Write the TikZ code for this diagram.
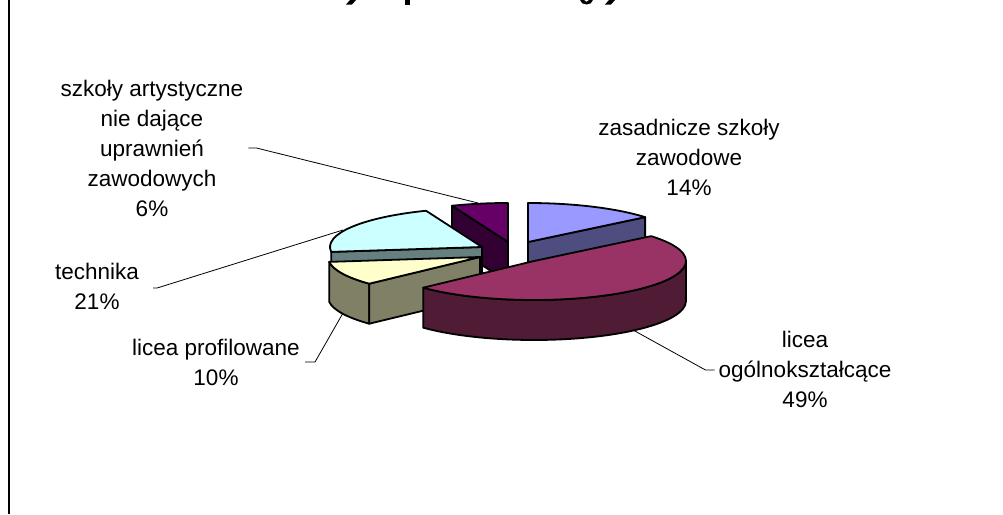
\documentclass[tikz,border=0pt]{standalone}
\usepackage{fontspec}
\setmainfont{Liberation Sans}
\definecolor{blueTop}{HTML}{9999FF}
\definecolor{blueSide}{HTML}{4D4D80}
\definecolor{redTop}{HTML}{993366}
\definecolor{redSide}{HTML}{4F1B35}
\definecolor{yelTop}{HTML}{FFFFCC}
\definecolor{yelSide}{HTML}{808066}
\definecolor{cyanTop}{HTML}{CCFFFF}
\definecolor{cyanSide}{HTML}{668080}
\definecolor{purTop}{HTML}{660066}
\definecolor{purSide}{HTML}{330033}
\newcommand{\pieRX}{152}
\newcommand{\pieRY}{39}
\newcommand{\pieH}{40}
\begin{document}
\begin{tikzpicture}[x=1pt,y=1pt,line join=round,
  edge/.style={draw=black,line width=1.8pt},
  lbl/.style={align=center,font=\fontsize{22.5}{30}\selectfont,inner sep=2pt},
  leader/.style={draw=black,line width=0.8pt},
  ell/.style={x radius=\pieRX,y radius=\pieRY}]
\useasboundingbox (0,0) rectangle (1003,-514);
\fill[white] (0,0) rectangle (1003,-514);
% frame (left border only visible)
\draw[line width=1.6pt] (9,0) -- (9,-514);
% cut-off title descenders
\fill (350,0) -- (356,0) -- (352,-4.5) -- (346,-4.5) -- cycle;
\fill (405,0) rectangle (409.5,-4.5);
\fill (580,0) .. controls (581,-6) and (592,-6) .. (593,0) -- (589,0) .. controls (588,-2.5) and (585,-2.5) .. (584,0) -- cycle;
\fill (609,0) -- (615,0) -- (611,-4.5) -- (605,-4.5) -- cycle;

% slice 5: szkoly artystyczne (purple, back)
\path[edge,fill=purSide] (508,-242) -- ++({\pieRX*cos(111.6)},{\pieRY*sin(111.6)}) -- ++(0,-\pieH) -- (508,-282) -- cycle;
\path[edge,fill=purTop] (508,-242) -- ++({\pieRX*cos(111.6)},{\pieRY*sin(111.6)}) arc[start angle=111.6,end angle=90,ell] -- cycle;
% slice 1: zasadnicze (blue)
\path[edge,fill=blueSide] (528,-242) -- ++({\pieRX*cos(39.6)},{\pieRY*sin(39.6)}) -- ++(0,-\pieH) -- (528,-282) -- cycle;
\path[edge,fill=blueTop] (528,-242) -- ++(0,\pieRY) arc[start angle=90,end angle=39.6,ell] -- cycle;
% slice 4: technika (cyan)
\path[edge,fill=cyanSide] (482,-247) -- ++({\pieRX*cos(187.2)},{\pieRY*sin(187.2)}) -- ++(0,-\pieH) -- (482,-287) -- cycle;
\path[edge,fill=cyanTop] (482,-247) -- ++({\pieRX*cos(187.2)},{\pieRY*sin(187.2)}) arc[start angle=187.2,end angle=111.6,ell] -- cycle;
% slice 3: licea profilowane (yellow)
\path[edge,fill=yelSide] (480,-257) ++({\pieRX*cos(187.2)},{\pieRY*sin(187.2)}) arc[start angle=187.2,end angle=223.2,ell] -- ++(0,-\pieH) arc[start angle=223.2,end angle=187.2,ell] -- cycle;
\path[edge,fill=yelSide] (480,-257) -- ++({\pieRX*cos(223.2)},{\pieRY*sin(223.2)}) -- ++(0,-\pieH) -- (480,-297) -- cycle;
\path[edge,fill=yelTop] (480,-257) -- ++({\pieRX*cos(223.2)},{\pieRY*sin(223.2)}) arc[start angle=223.2,end angle=187.2,ell] -- cycle;
% slice 2: licea ogolnoksztalcace (red, front)
\path[edge,fill=redSide] (534,-261) ++({\pieRX*cos(223.2)},{\pieRY*sin(223.2)}) arc[start angle=223.2,end angle=360,ell] -- ++(0,-\pieH) arc[start angle=360,end angle=223.2,ell] -- cycle;
\path[edge,fill=redTop] (534,-261) -- ++({\pieRX*cos(39.6)},{\pieRY*sin(39.6)}) arc[start angle=39.6,end angle=-136.8,ell] -- cycle;

% leader end points
\coordinate (e5) at (478,-203);
\coordinate (e4) at (343,-230);
\coordinate (e3) at (343,-313);
\coordinate (e2) at (633,-330);

% labels
\node[lbl] (l1) at (689,-157) {zasadnicze szkoły\\zawodowe\\14\%};
\node[lbl] (l5) at (152,-148) {szkoły artystyczne\\nie dające\\uprawnień\\zawodowych\\6\%};
\node[lbl] (l4) at (97,-286) {technika\\21\%};
\node[lbl] (l3) at (216,-362) {licea profilowane\\10\%};
\node[lbl] (l2) at (805,-369) {licea\\ogólnokształcące\\49\%};

% leaders
\draw[leader] (l5.east) ++(3,0) -- ++(8,0) -- (e5);
\draw[leader] (l4.east) ++(12,-2) -- ++(4,0) -- (e4);
\draw[leader] (l3.east) ++(3,0) -- ++(10,0) -- (e3);
\draw[leader] (l2.west) ++(-2,-1) -- ++(-9,0) -- (e2);
\end{tikzpicture}
\end{document}
